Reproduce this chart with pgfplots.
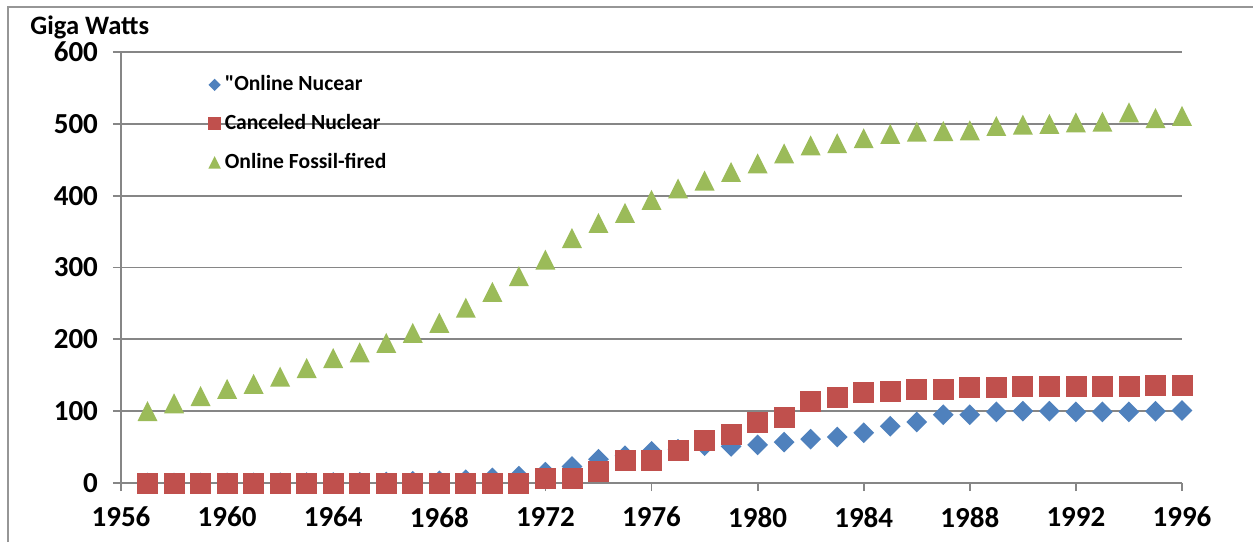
\documentclass[border=0pt]{standalone}
\usepackage{fontspec}
\setmainfont{Carlito}
\usepackage{pgfplots}
\pgfplotsset{compat=1.18}
\usetikzlibrary{plotmarks}

\definecolor{nucblue}{RGB}{79,129,189}
\definecolor{canred}{RGB}{192,80,77}
\definecolor{fosgreen}{RGB}{155,187,89}
\definecolor{gridgray}{RGB}{134,134,134}
\definecolor{framegray}{RGB}{150,150,150}

% filled rhombus with equal half-width and half-height
\pgfdeclareplotmark{rhomb}{%
  \pgfpathmoveto{\pgfqpoint{0pt}{\pgfplotmarksize}}%
  \pgfpathlineto{\pgfqpoint{\pgfplotmarksize}{0pt}}%
  \pgfpathlineto{\pgfqpoint{0pt}{-\pgfplotmarksize}}%
  \pgfpathlineto{\pgfqpoint{-\pgfplotmarksize}{0pt}}%
  \pgfpathclose\pgfusepathqfill}
% filled triangle as wide as it is tall
\pgfdeclareplotmark{tri}{%
  \pgfpathmoveto{\pgfqpoint{0pt}{\pgfplotmarksize}}%
  \pgfpathlineto{\pgfqpoint{\pgfplotmarksize}{-\pgfplotmarksize}}%
  \pgfpathlineto{\pgfqpoint{-\pgfplotmarksize}{-\pgfplotmarksize}}%
  \pgfpathclose\pgfusepathqfill}

\begin{document}
\begin{tikzpicture}
\useasboundingbox (0,0) rectangle (626.5pt,271pt);
% chart frame
\draw[framegray, line width=0.8pt] (4pt,0pt) -- (4pt,267.5pt) -- (630pt,267.5pt);

\begin{axis}[
  at={(60.5pt,29.5pt)}, anchor=south west,
  scale only axis,
  width=530.5pt, height=215.5pt,
  xmin=1956, xmax=1996,
  ymin=0, ymax=600,
  xtick={1956,1960,...,1996},
  ytick={0,100,...,600},
  axis lines*=left,
  axis line style={gridgray, line width=0.9pt},
  ymajorgrids,
  grid style={gridgray, line width=0.9pt},
  tick align=outside,
  major tick length=4pt,
  tick style={gridgray, line width=0.9pt},
  /pgf/number format/assume math mode=true,
  /pgf/number format/1000 sep={},
  tick label style={font=\bfseries\fontsize{14.5}{16}\selectfont},
  xticklabel style={yshift=-4.5pt},
  yticklabel style={xshift=-4pt},
  clip=false,
  legend style={at={(rel axis cs:0.082,0.955)}, anchor=north west,
    draw=none, fill=none, font=\bfseries\fontsize{10.8}{12}\selectfont,
    row sep=6.3pt, inner sep=0pt},
  legend cell align=left,
  legend image code/.code={\draw[#1, mark size=3.1pt] plot coordinates {(0pt,0pt)};},
]
\addplot[only marks, mark=rhomb, mark size=5.2pt, color=nucblue] coordinates {
(1957,0) (1958,0) (1959,0) (1960,0.1) (1961,0.2) (1962,0.3) (1963,0.5)
(1964,0.7) (1965,1) (1966,1.5) (1967,2.5) (1968,3) (1969,4.5) (1970,7)
(1971,9.5) (1972,15) (1973,23) (1974,33) (1975,38) (1976,44) (1977,47)
(1978,52) (1979,51) (1980,53) (1981,57) (1982,61) (1983,64) (1984,70)
(1985,79) (1986,85) (1987,95) (1988,95) (1989,99) (1990,100) (1991,100)
(1992,99) (1993,99) (1994,99) (1995,100) (1996,101)
};
\addlegendentry{\textquotedbl Online Nucear}
\addplot[only marks, mark=square*, mark size=5pt, color=canred] coordinates {
(1957,0) (1958,0) (1959,0) (1960,0) (1961,0) (1962,0) (1963,0)
(1964,0) (1965,0) (1966,0) (1967,0) (1968,0) (1969,0) (1970,0)
(1971,0) (1972,6.5) (1973,6.5) (1974,16) (1975,31) (1976,32) (1977,45)
(1978,59) (1979,67) (1980,85) (1981,91) (1982,113) (1983,119) (1984,126)
(1985,128) (1986,130) (1987,130) (1988,133) (1989,133) (1990,134) (1991,134)
(1992,134) (1993,134) (1994,134) (1995,136.5) (1996,136.5)
};
\addlegendentry{Canceled Nuclear}
\addplot[only marks, mark=tri, mark size=5pt, color=fosgreen] coordinates {
(1957,100) (1958,111) (1959,121) (1960,131) (1961,138) (1962,148) (1963,160)
(1964,174) (1965,182) (1966,195) (1967,209) (1968,223) (1969,244) (1970,266)
(1971,288) (1972,311) (1973,341) (1974,362) (1975,376) (1976,394) (1977,410)
(1978,421) (1979,433) (1980,445) (1981,459) (1982,470) (1983,473) (1984,480)
(1985,486) (1986,489) (1987,490) (1988,491) (1989,497) (1990,499) (1991,500)
(1992,502) (1993,503) (1994,516) (1995,508) (1996,511)
};
\addlegendentry{Online Fossil-fired}
\end{axis}

\node[anchor=base west, inner sep=0pt, font=\bfseries\fontsize{13.3}{15}\selectfont]
  at (15pt,253.5pt) {Giga Watts};
\end{tikzpicture}
\end{document}
